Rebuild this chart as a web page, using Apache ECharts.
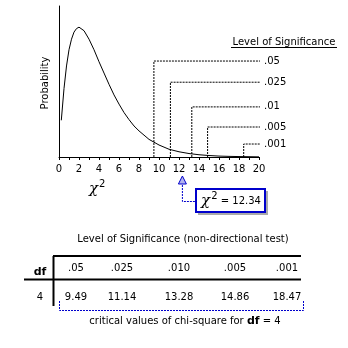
<!DOCTYPE html>
<html><head><meta charset="utf-8">
<script src="https://cdn.jsdelivr.net/npm/echarts/dist/echarts.min.js"></script>
<style>html,body{margin:0;padding:0;background:#fff}#c{width:348px;height:348px}</style>
</head><body><div id="c"></div><script>
// chi-square density curve (df = 4)
const curveX = [0.23,0.5,0.75,1,1.25,1.5,1.75,2,2.5,3,3.5,4,4.5,5,5.5,6,6.5,7,7.5,8,9,10,11,12,13,14,15,16,17,18,19,20];
const curveY = [0.052,0.097,0.129,0.152,0.167,0.177,0.182,0.184,0.179,0.167,0.152,0.135,0.119,0.103,0.088,0.075,0.063,0.053,0.044,0.037,0.025,0.017,0.011,0.0074,0.0049,0.0032,0.0021,0.0013,0.0009,0.0006,0.0004,0.0002];
const sigLevels = ['.05','.025','.01','.005','.001'];
const tableLevels = ['.05','.025','.010','.005','.001'];
const criticalValues = [9.49, 11.14, 13.28, 14.86, 18.47];
const tableValues = ['9.49','11.14','13.28','14.86','18.47'];
const leaderHeights = [0.136, 0.106, 0.071, 0.0425, 0.0184];
const leaderEnd = 20.8;
const observed = 12.34;
const df = 4;

const FONT = 'DejaVu Sans';
const chart = echarts.init(document.getElementById('c'), null, {renderer:'canvas'});

const series = [{
  type:'line', data: curveX.map((x,i)=>[x,curveY[i]]), showSymbol:false, symbol:'none',
  lineStyle:{color:'#000', width:1}, silent:true
}];
criticalValues.forEach((cv,i)=>{
  series.push({
    type:'line', clip:false, symbol:'none', silent:true,
    data:[[cv,0],[cv,leaderHeights[i]],[leaderEnd,leaderHeights[i]]],
    lineStyle:{color:'#000', width:1, type:[2,1]},
    endLabel:{show:true, formatter:sigLevels[i], color:'#000', fontFamily:FONT, fontSize:10, distance:4}
  });
});

chart.setOption({
  animation:false,
  grid:{left:59, top:6, width:200, height:151},
  xAxis:{type:'value', min:0, max:20, interval:2,
    axisLine:{lineStyle:{color:'#000', width:1}},
    axisTick:{show:true, length:3, lineStyle:{color:'#000'}},
    minorTick:{show:true, splitNumber:2, length:3, lineStyle:{color:'#000'}},
    splitLine:{show:false},
    axisLabel:{color:'#000', fontFamily:FONT, fontSize:10, margin:7}},
  yAxis:{type:'value', min:0, max:0.214,
    axisLine:{show:true, lineStyle:{color:'#000', width:1}},
    axisTick:{show:false}, axisLabel:{show:false}, splitLine:{show:false}},
  series: series
});

const ax = chart.convertToPixel({xAxisIndex:0}, observed);
const blue = '#0000cc';
const g = [];
const txt = (x,y,text,opt={}) => g.push({type:'text', x, y, rotation:opt.rotation||0, z:10,
  style:Object.assign({text, fill:'#000', font:(opt.weight||'normal')+' '+(opt.size||10)+'px "'+FONT+'"', textAlign:opt.align||'center', textVerticalAlign:'middle'}, opt.style||{})});

txt(45,83,'Probability',{rotation:Math.PI/2});
txt(284,42,'Level of Significance');
g.push({type:'line', shape:{x1:231,y1:47.5,x2:337,y2:47.5}, style:{stroke:'#000', lineWidth:1}});
// chi-square axis label
g.push({type:'text', x:89, y:189, style:{text:'{c|χ}{s|2}', textVerticalAlign:'middle', rich:{
  c:{font:'italic 15px "DejaVu Serif"', fill:'#000'},
  s:{font:'10px "'+FONT+'"', fill:'#000', verticalAlign:'top', padding:[0,0,10,1]}}}});
// arrow to observed value
g.push({type:'polygon', shape:{points:[[ax,176],[ax-4,184],[ax+4,184]]}, style:{fill:'rgba(0,0,204,0.3)', stroke:blue, lineWidth:1}});
g.push({type:'polyline', shape:{points:[[ax,185],[ax,201.5],[195,201.5]]}, style:{stroke:blue, lineWidth:1, lineDash:[2,1], fill:null}});
g.push({type:'rect', shape:{x:198, y:191, width:70, height:24}, style:{fill:'#aaa'}});
g.push({type:'rect', shape:{x:196, y:189, width:69, height:23}, style:{fill:'#fff', stroke:blue, lineWidth:2}});
g.push({type:'text', x:231, y:201, z:10, style:{text:'{c|χ}{s|2}{t| = '+observed.toFixed(2)+'}', textAlign:'center', textVerticalAlign:'middle', rich:{
  c:{font:'italic 15px "DejaVu Serif"', fill:'#000'},
  s:{font:'10px "'+FONT+'"', fill:'#000', verticalAlign:'top', padding:[0,0,10,1]},
  t:{font:'10px "'+FONT+'"', fill:'#000'}}}});

// table
txt(183,239,'Level of Significance (non-directional test)');
g.push({type:'line', shape:{x1:53.5,y1:256,x2:53.5,y2:306}, style:{stroke:'#000', lineWidth:2}});
g.push({type:'line', shape:{x1:53,y1:256,x2:301,y2:256}, style:{stroke:'#000', lineWidth:2}});
g.push({type:'line', shape:{x1:24,y1:279.5,x2:301,y2:279.5}, style:{stroke:'#000', lineWidth:2}});
txt(40,272,'df',{weight:'bold',size:11});
txt(40,297,String(df));
const colX = [76,122,179,235,287];
tableLevels.forEach((l,i)=>txt(colX[i],268,l));
tableValues.forEach((v,i)=>txt(colX[i],297,v));
g.push({type:'polyline', shape:{points:[[59.5,301],[59.5,310.5],[303.5,310.5],[303.5,301]]}, style:{stroke:blue, lineWidth:1, lineDash:[2,1], fill:null}});
g.push({type:'text', x:185, y:321, style:{text:'{t|critical values of chi-square for }{b|df}{t| = '+df+'}', textAlign:'center', textVerticalAlign:'middle', rich:{
  t:{font:'10px "'+FONT+'"', fill:'#000'}, b:{font:'bold 11px "'+FONT+'"', fill:'#000'}}}});

chart.setOption({graphic:g});
</script></body></html>
